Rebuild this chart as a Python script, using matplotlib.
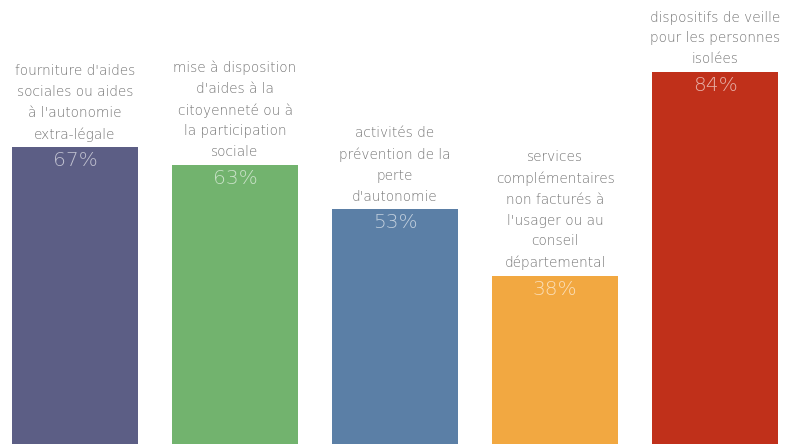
import matplotlib
matplotlib.use("Agg")
import matplotlib.pyplot as plt

categories = [
    "fourniture d'aides\nsociales ou aides\nà l'autonomie\nextra-légale",
    "mise à disposition\nd'aides à la\ncitoyenneté ou à\nla participation\nsociale",
    "activités de\nprévention de la\nperte\nd'autonomie",
    "services\ncomplémentaires\nnon facturés à\nl'usager ou au\nconseil\ndépartemental",
    "dispositifs de veille\npour les personnes\nisolées",
]
values = [67, 63, 53, 38, 84]
colors = ["#5c5e85", "#72b36e", "#5b7fa6", "#f2a841", "#c0301a"]

plt.rcParams["font.family"] = ["DejaVu Sans"]

fig = plt.figure(figsize=(7.85, 4.44), dpi=100)
ax = fig.add_axes([0, 0, 1, 1])
x = list(range(len(values)))
ax.bar(x, values, width=0.79, color=colors, zorder=2)

ax.set_xlim(-0.469, 4.4375)
ax.set_ylim(0, 100.2)
ax.axis("off")

for xi, v, lab in zip(x, values, categories):
    ax.annotate(lab, (xi, v), xytext=(0, 4), textcoords="offset points",
                ha="center", va="bottom", fontsize=9.8, color="#727272",
                linespacing=1.62, fontweight="light")
    ax.annotate(f"{v}%", (xi, v), xytext=(0, -3), textcoords="offset points",
                ha="center", va="top", fontsize=14.5, color="white", alpha=0.62,
                fontweight="light")

fig.savefig("out.png", dpi=100)
